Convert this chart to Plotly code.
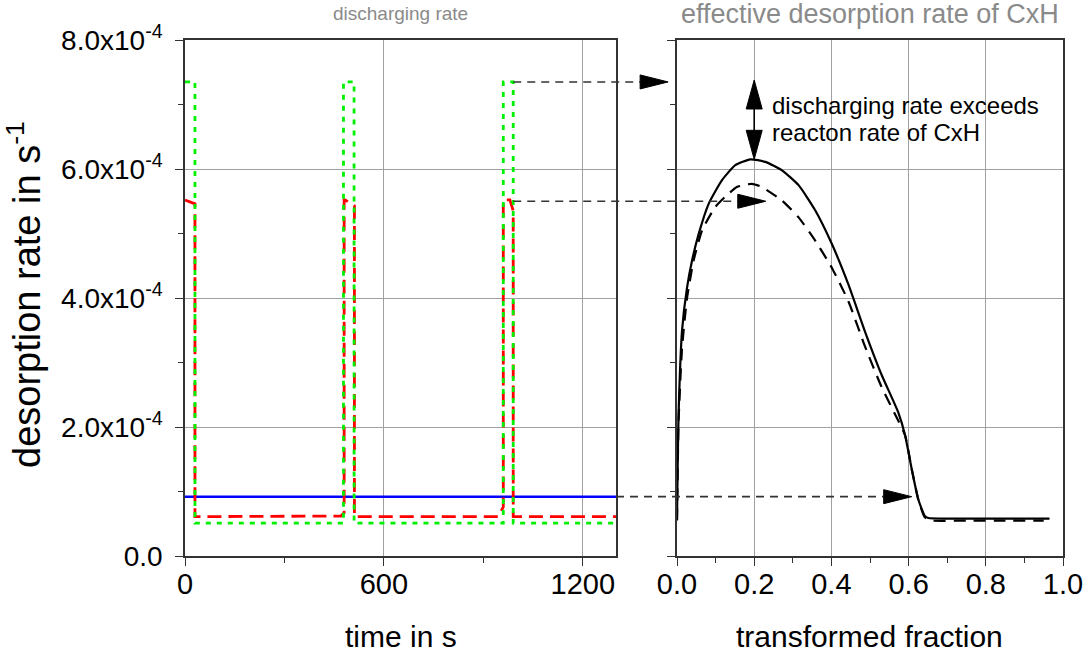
import plotly.graph_objects as go

# ---------------- data ----------------
# left panel: discharging rate vs time (values in 1e-4 s^-1)
red_t = [0, 30, 30, 470, 480, 480, 483, 511, 511, 945, 960, 960, 980, 990, 990, 1300]
red_v = [5.52, 5.46, 0.61, 0.62, 0.67, 5.52, 5.52, 5.43, 0.61, 0.61, 0.76, 5.52, 5.52, 5.35, 0.61, 0.61]

green_t = [0, 30, 30, 478, 478, 510, 510, 960, 960, 990, 990, 1300]
green_v = [7.35, 7.35, 0.51, 0.51, 7.35, 7.35, 0.51, 0.51, 7.35, 7.35, 0.51, 0.51]

blue_t = [0, 1300]
blue_v = [0.92, 0.92]

# right panel: effective desorption rate vs transformed fraction
solid_f = [0, 0.002, 0.004, 0.013, 0.026, 0.039, 0.056, 0.082, 0.117, 0.151, 0.19, 0.229,
           0.272, 0.315, 0.358, 0.401, 0.444, 0.487, 0.530, 0.573, 0.591, 0.608, 0.625,
           0.642, 0.651, 0.70, 0.80, 0.90, 0.965]
solid_v = [0.56, 1.5, 2.18, 3.49, 4.16, 4.58, 4.99, 5.46, 5.83, 6.06, 6.15, 6.11,
           5.98, 5.75, 5.36, 4.84, 4.21, 3.48, 2.81, 2.23, 1.87, 1.35, 0.88,
           0.62, 0.59, 0.58, 0.58, 0.58, 0.58]

dash_f = [0, 0.002, 0.004, 0.013, 0.026, 0.043, 0.065, 0.099, 0.125, 0.155, 0.194, 0.22,
          0.272, 0.315, 0.358, 0.401, 0.444, 0.487, 0.530, 0.573, 0.591, 0.608, 0.625,
          0.642, 0.66, 0.75, 0.85, 0.95]
dash_v = [0.55, 1.4, 2.08, 3.22, 4.0, 4.58, 5.05, 5.41, 5.57, 5.72, 5.77, 5.72,
          5.51, 5.25, 4.89, 4.47, 3.95, 3.25, 2.62, 2.1, 1.87, 1.35, 0.88,
          0.6, 0.55, 0.55, 0.55, 0.55]

SCALE = 1e-4
y_tickvals = [0, 2, 4, 6, 8]
y_ticktext = ["0.0", "2.0x10<sup>-4</sup>", "4.0x10<sup>-4</sup>", "6.0x10<sup>-4</sup>", "8.0x10<sup>-4</sup>"]
left_ticks = [0, 600, 1200]
right_ticks = [0.0, 0.2, 0.4, 0.6, 0.8, 1.0]
right_ticktext = ["0.0", "0.2", "0.4", "0.6", "0.8", "1.0"]

def sc(v):
    return [x * SCALE for x in v]

# ---------------- layout geometry ----------------
W, H = 1087, 652
XL = [0, 1300]
XR = [0, 1.0]
YR = [0, 8e-4]
L_dom = [185 / W, 616 / W]
R_dom = [677 / W, 1063 / W]
Y_dom = [1 - 556 / H, 1 - 40 / H]

def lx(t):
    return L_dom[0] + (t - XL[0]) / (XL[1] - XL[0]) * (L_dom[1] - L_dom[0])

def rx(f):
    return R_dom[0] + (f - XR[0]) / (XR[1] - XR[0]) * (R_dom[1] - R_dom[0])

def yy(v):
    return Y_dom[0] + (v * SCALE - YR[0]) / (YR[1] - YR[0]) * (Y_dom[1] - Y_dom[0])

FONT = "Liberation Sans, Arial, sans-serif"

fig = go.Figure()
fig.add_trace(go.Scatter(x=blue_t, y=sc(blue_v), mode="lines",
                         line=dict(color="#0000FF", width=2.5), xaxis="x", yaxis="y"))
fig.add_trace(go.Scatter(x=red_t, y=sc(red_v), mode="lines",
                         line=dict(color="#FF0000", width=2.8, dash="14px,7px"), xaxis="x", yaxis="y"))
fig.add_trace(go.Scatter(x=green_t, y=sc(green_v), mode="lines",
                         line=dict(color="#00F000", width=2.8, dash="5px,6px"), xaxis="x", yaxis="y"))
fig.add_trace(go.Scatter(x=solid_f, y=sc(solid_v), mode="lines", line_shape="spline",
                         line=dict(color="black", width=2.2, smoothing=0.5), xaxis="x2", yaxis="y2"))
fig.add_trace(go.Scatter(x=dash_f, y=sc(dash_v), mode="lines", line_shape="spline",
                         line=dict(color="black", width=2.2, dash="12px,8px", smoothing=0.5), xaxis="x2", yaxis="y2"))

axis_common = dict(showline=True, linecolor="#333333", linewidth=1.6, mirror=True,
                   ticks="outside", ticklen=8, tickwidth=1.4, tickcolor="#333333",
                   showgrid=True, gridcolor="#a0a0a0", gridwidth=1.2, zeroline=False,
                   automargin=False)

tick_x = dict(family=FONT, size=29, color="black")
tick_y = dict(family=FONT, size=28, color="black")

fig.update_layout(
    width=W, height=H, autosize=False,
    margin=dict(l=0, r=0, t=0, b=0, pad=0, autoexpand=False),
    paper_bgcolor="white", plot_bgcolor="white",
    showlegend=False,
    xaxis=dict(domain=L_dom, range=XL, anchor="y", tickvals=left_ticks, ticklabelstandoff=-7,
               tickfont=tick_x,
               minor=dict(tickvals=[300, 900], ticks="outside", ticklen=5, tickcolor="#333333", showgrid=False),
               **axis_common),
    yaxis=dict(domain=Y_dom, range=YR, anchor="x", tickvals=sc(y_tickvals), ticktext=y_ticktext,
               ticklabelstandoff=7, tickfont=tick_y,
               minor=dict(tickvals=sc([1, 3, 5, 7]), ticks="outside", ticklen=5, tickcolor="#333333", showgrid=False),
               **axis_common),
    xaxis2=dict(domain=R_dom, range=XR, anchor="y2", tickvals=right_ticks, ticktext=right_ticktext,
                ticklabelstandoff=-7, tickfont=tick_x,
                minor=dict(tickvals=[0.1, 0.3, 0.5, 0.7, 0.9], ticks="outside", ticklen=5, tickcolor="#333333", showgrid=False),
                **axis_common),
    yaxis2=dict(domain=Y_dom, range=YR, anchor="x2", tickvals=sc(y_tickvals), showticklabels=False,
                tickfont=tick_y,
                minor=dict(tickvals=sc([1, 3, 5, 7]), ticks="outside", ticklen=5, tickcolor="#333333", showgrid=False),
                **axis_common),
)

# ---------------- annotations ----------------
ann = []
ann.append(dict(text="discharging rate", x=(L_dom[0] + L_dom[1]) / 2, y=1 - 14 / H,
                xref="paper", yref="paper", showarrow=False, xanchor="center", yanchor="middle",
                font=dict(family=FONT, size=19, color="#8a8a8a")))
ann.append(dict(text="effective desorption rate of CxH", x=(R_dom[0] + R_dom[1]) / 2, y=1 - 14 / H,
                xref="paper", yref="paper", showarrow=False, xanchor="center", yanchor="middle",
                font=dict(family=FONT, size=27, color="#8a8a8a")))
ann.append(dict(text="time in s", x=(L_dom[0] + L_dom[1]) / 2, y=1 - 636 / H,
                xref="paper", yref="paper", showarrow=False, xanchor="center", yanchor="middle",
                font=dict(family=FONT, size=30, color="black")))
ann.append(dict(text="transformed fraction", x=(R_dom[0] + R_dom[1]) / 2, y=1 - 636 / H,
                xref="paper", yref="paper", showarrow=False, xanchor="center", yanchor="middle",
                font=dict(family=FONT, size=30, color="black")))
ann.append(dict(text="desorption rate in s<sup>-1</sup>", x=24 / W, y=1 - 295 / H, textangle=-90,
                xref="paper", yref="paper", showarrow=False, xanchor="center", yanchor="middle",
                font=dict(family=FONT, size=38, color="black")))
ann.append(dict(text="discharging rate exceeds", x=0.24, y=6.99e-4, xref="x2", yref="y2",
                showarrow=False, xanchor="left", yanchor="middle",
                font=dict(family=FONT, size=24, color="black")))
ann.append(dict(text="reacton rate of CxH", x=0.24, y=6.56e-4, xref="x2", yref="y2",
                showarrow=False, xanchor="left", yanchor="middle",
                font=dict(family=FONT, size=24, color="black")))

# ---------------- connecting arrows ----------------
shapes = []
HL, HW = 28 / W, 7 / H  # arrow head length / half width in paper units

def harrow(x0, x1, y):
    shapes.append(dict(type="line", xref="paper", yref="paper", x0=x0, x1=x1 - HL, y0=y, y1=y,
                       line=dict(color="#333333", width=1.6, dash="8px,6px")))
    shapes.append(dict(type="path", xref="paper", yref="paper",
                       path=f"M {x1},{y} L {x1 - HL},{y + HW} L {x1 - HL},{y - HW} Z",
                       fillcolor="black", line=dict(color="black", width=1)))

green_peak = max(green_v)
red_peak = 5.5
blue_level = blue_v[0]
harrow(lx(990), rx(-0.023), yy(green_peak))
harrow(lx(990), rx(0.23), yy(red_peak))
harrow(lx(1300), rx(0.608), yy(blue_level))

# vertical double arrow at fraction 0.2
VX = rx(0.2)
VHL, VHW = 29 / H, 8 / W
top = yy(7.38)
bot = yy(max(solid_v))
shapes.append(dict(type="line", xref="paper", yref="paper", x0=VX, x1=VX, y0=top - VHL, y1=bot + VHL,
                   line=dict(color="black", width=1.6)))
shapes.append(dict(type="path", xref="paper", yref="paper",
                   path=f"M {VX},{top} L {VX - VHW},{top - VHL} L {VX + VHW},{top - VHL} Z",
                   fillcolor="black", line=dict(color="black", width=1)))
shapes.append(dict(type="path", xref="paper", yref="paper",
                   path=f"M {VX},{bot} L {VX - VHW},{bot + VHL} L {VX + VHW},{bot + VHL} Z",
                   fillcolor="black", line=dict(color="black", width=1)))

fig.update_layout(annotations=ann, shapes=shapes)
fig.write_html("out.html", config={"responsive": False, "displayModeBar": False},
               post_script="document.body.style.margin='0px';document.body.style.overflow='hidden';")
